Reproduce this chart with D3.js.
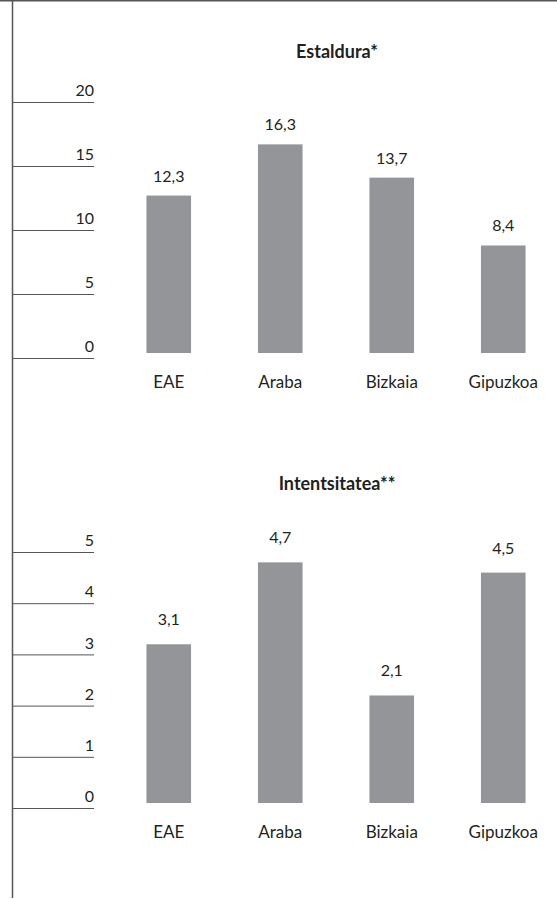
<!DOCTYPE html>
<html lang="eu">
<head>
<meta charset="UTF-8">
<title>Estaldura eta intentsitatea</title>
<style>
  body { margin: 0; background: #fff; }
  svg { display: block; }
  text { fill: #231f20; font-family: Lato, "Open Sans", sans-serif; }
  .bar { fill: #939598; }
  .title { font-weight: 700; font-size: 18px; text-anchor: middle; }
  .value { font-size: 16px; text-anchor: middle; }
  .cat { font-size: 17px; text-anchor: middle; }
  .axis text { font-size: 16px; }
  .axis line { stroke: #555; stroke-width: 1px; }
  .frame { stroke: #555; fill: none; }
</style>
</head>
<body>
<script src="https://cdnjs.cloudflare.com/ajax/libs/d3/7.8.5/d3.min.js"></script>
<script>

var categories = ["EAE", "Araba", "Bizkaia", "Gipuzkoa"];
var estaldura = [12.3, 16.3, 13.7, 8.4];
var intentsitatea = [3.1, 4.7, 2.1, 4.5];
var estalduraTicks = [0, 5, 10, 15, 20];
var intentsitateaTicks = [0, 1, 2, 3, 4, 5];

var width = 557,
    height = 899;

var svg = d3.select("body").append("svg")
  .attr("width", width)
  .attr("height", height);

// frame: top rule and left rule
svg.append("line").attr("class", "frame")
  .attr("x1", 0).attr("x2", width).attr("y1", 0.75).attr("y2", 0.75)
  .attr("stroke-width", 1.5);
svg.append("line").attr("class", "frame")
  .attr("x1", 12.5).attr("x2", 12.5).attr("y1", 0).attr("y2", 898)
  .attr("stroke-width", 1.5);

var x = d3.scaleBand()
  .domain(categories)
  .range([113, 559])
  .paddingInner(0.6)
  .paddingOuter(0.3);

var fmt = function(v) { return String(v).replace(".", ","); };

var panels = [
  { title: "Estaldura*", values: estaldura, ticks: estalduraTicks, base: 353, titleY: 58, gap: 14 },
  { title: "Intentsitatea**", values: intentsitatea, ticks: intentsitateaTicks, base: 803, titleY: 490, gap: 19 }
];

panels.forEach(function(p) {

  var max = d3.max(p.ticks);

  var y = d3.scaleLinear()
    .domain([0, max])
    .range([p.base, p.base - 256]);

  var g = svg.append("g");

  g.append("text")
    .attr("class", "title")
    .attr("x", 337)
    .attr("y", p.titleY)
    .text(p.title);

  // axis lines sit 5px below the bar scale
  var axis = g.append("g")
    .attr("class", "axis")
    .attr("transform", "translate(94,5)")
    .call(d3.axisLeft(y).tickValues(p.ticks).tickSize(81).tickFormat(d3.format("d")));

  axis.select(".domain").remove();
  axis.selectAll("text")
    .attr("x", 0)
    .attr("dy", "-0.4em")
    .attr("text-anchor", "end");

  g.selectAll(".bar")
    .data(p.values)
    .enter()
    .append("rect")
      .attr("class", "bar")
      .attr("x", function(d, i) { return x(categories[i]); })
      .attr("width", x.bandwidth())
      .attr("y", function(d) { return y(d); })
      .attr("height", function(d) { return y(0) - y(d); });

  g.selectAll(".value")
    .data(p.values)
    .enter()
    .append("text")
      .attr("class", "value")
      .attr("x", function(d, i) { return x(categories[i]) + x.bandwidth() / 2; })
      .attr("y", function(d) { return y(d) - p.gap; })
      .text(fmt);

  g.selectAll(".cat")
    .data(categories)
    .enter()
    .append("text")
      .attr("class", "cat")
      .attr("x", function(d) { return x(d) + x.bandwidth() / 2; })
      .attr("y", y(0) + 35)
      .text(function(d) { return d; });

});

</script>
</body>
</html>
